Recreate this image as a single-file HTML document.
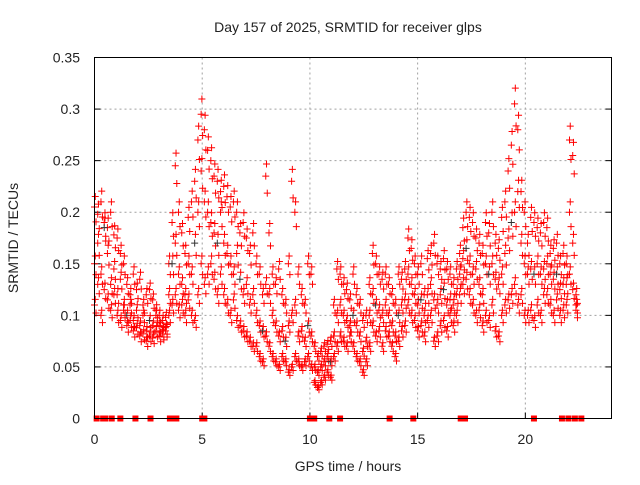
<!DOCTYPE html>
<html><head><meta charset="utf-8"><style>
body{margin:0;background:#fff}
svg text{font-family:"Liberation Sans",sans-serif;font-size:14px;fill:#222}
</style></head><body>
<svg id="c" width="640" height="480" xmlns="http://www.w3.org/2000/svg">
<rect width="640" height="480" fill="#fff"/>
<text x="348" y="32" text-anchor="middle">Day 157 of 2025, SRMTID for receiver glps</text>
<text x="348" y="471" text-anchor="middle">GPS time / hours</text>
<text transform="translate(18,238) rotate(-90)" text-anchor="middle">SRMTID / TECUs</text>
<g id="grid"></g>
<g id="axes"></g>
<g id="pts"></g>
<rect x="94.5" y="57.5" width="517" height="361" fill="none" stroke="#000"/>
</svg>
<script>
// values in thousandths of TECU, sampled every 0.15 h from 0 h
const stepHours = 0.15;
const seriesHigh = [205,198,210,190,185,200,178,175,160,150, 130,120,140,125,135,110,120,125,115,105, 100,95,98,150,190,245,200,180,160,195, 210,230,270,295,280,260,250,235,230,220, 225,215,205,210,200,180,190,175,160,180, 150,140,120,235,180,140,130,145,120,110, 150,230,200,140,120,110,150,140,70,60, 65,70,72,75,110,145,140,130,125,115, 140,120,110,95,100,130,160,150,140,135, 140,130,120,110,140,135,145,175,165,150, 140,150,120,155,160,170,150,145,155,145, 140,130,145,160,185,200,195,190,175,170, 160,190,180,200,170,165,195,210,240,265, 305,280,220,200,170,195,190,185,180,190, 185,160,165,170,150,160,150,270,255,120];
const seriesMid = [150,170,140,185,160,130,145,120,135,110, 100,110,95,105,90,100,85,95,90,100, 90,85,88,120,150,170,140,130,120,150, 140,170,200,240,210,200,190,180,170,200, 170,160,150,140,160,135,120,130,110,120, 100,90,85,130,120,100,90,80,85,75, 90,100,110,80,85,75,90,80,50,45, 50,55,60,55,80,100,110,100,95,90, 100,90,80,65,75,100,120,110,105,100, 110,100,90,80,100,110,115,140,130,120, 110,115,100,120,130,115,110,120,125,110, 115,110,120,140,155,165,150,140,145,130, 120,150,140,150,135,130,140,160,175,190, 200,220,170,150,140,145,140,150,140,145, 150,140,135,140,125,130,130,200,170,110];
const seriesLow = [110,130,100,125,115,105,120,100,95,105, 90,95,85,88,80,82,75,80,78,85, 80,82,85,100,110,120,105,110,100,115, 100,95,120,150,130,140,150,135,120,140, 120,110,100,115,95,90,85,80,75,70, 70,60,55,80,70,60,55,50,60,55, 45,50,60,55,50,55,60,50,35,30, 35,40,45,40,60,70,80,75,70,80, 70,60,55,45,55,70,90,80,85,70, 85,80,70,60,75,85,90,110,100,95, 85,90,80,95,100,75,80,90,95,85, 100,90,100,120,130,135,120,110,100,105, 90,100,95,110,85,80,100,110,115,120, 130,110,120,100,100,105,95,110,100,120, 120,110,100,115,100,105,110,140,125,105];
const zeroTimes = [0.1,0.4,0.5,0.8,1.2,1.9,2.6,3.5,3.6,3.8,5.0,5.1,10.0,10.1,10.2,10.9,11.4,13.7,14.8,17.0,17.1,17.2,20.4,21.7,22.0,22.3,22.6];
const xTicks = [0,5,10,15,20];
const yTicks = [0,0.05,0.1,0.15,0.2,0.25,0.3,0.35];
const yTickLabels = ["0","0.05","0.1","0.15","0.2","0.25","0.3","0.35"];

const NS="http://www.w3.org/2000/svg";
const L=94.5,R=611.5,T=57.5,B=418.5;
const xs=h=>L+(h/24)*(R-L);
const ys=v=>B-(v/0.35)*(B-T);
const grid=document.getElementById('grid'),axes=document.getElementById('axes'),pts=document.getElementById('pts');
function mk(tag,at,parent){const e=document.createElementNS(NS,tag);for(const k in at)e.setAttribute(k,at[k]);parent.appendChild(e);return e;}
xTicks.forEach(t=>{
  const x=xs(t);
  if(t>0){const g=mk('line',{x1:x,x2:x,y1:T,y2:B,stroke:'#a0a0a0','stroke-dasharray':'2,3'},grid);
  
  }
  mk('line',{x1:x,x2:x,y1:B,y2:B-6,stroke:'#000'},axes);
  const tx=mk('text',{x:x,y:444,'text-anchor':'middle'},axes);tx.textContent=t;
  
  
});
yTicks.forEach((t,i)=>{
  const y=ys(t);
  if(t>0){const g=mk('line',{x1:L,x2:R,y1:y,y2:y,stroke:'#a0a0a0','stroke-dasharray':'2,3'},grid);
  
  }
  mk('line',{x1:L,x2:L+6,y1:y,y2:y,stroke:'#000'},axes);
  mk('line',{x1:R,x2:R-6,y1:y,y2:y,stroke:'#000'},axes);
  const tx=mk('text',{x:80,y:y+5,'text-anchor':'end'},axes);tx.textContent=yTickLabels[i];
  
  
});
function plus(h,v,col){
  const x=xs(h),y=ys(v);
  const p=mk('path',{d:`M${x-3.5},${y}h7M${x},${y-3.5}v7`,stroke:col,'stroke-width':1},pts);
  
  
}
[seriesHigh,seriesMid,seriesLow].forEach((s,si)=>{
  s.forEach((v,i)=>{
    const h=i*stepHours;
    plus(h,v/1000,(i%7===3&&si===1)?'#333':'#f00');
    plus(h+0.07,(v*0.93)/1000,'#f00');
    plus(h+0.035,(v*1.05)/1000,'#f00');
  });
});
zeroTimes.forEach(t=>{
  const r=mk('rect',{x:xs(t)-3,y:B-3,width:6,height:6,fill:'#f00'},pts);
  
  
});
</script>
</body></html>
